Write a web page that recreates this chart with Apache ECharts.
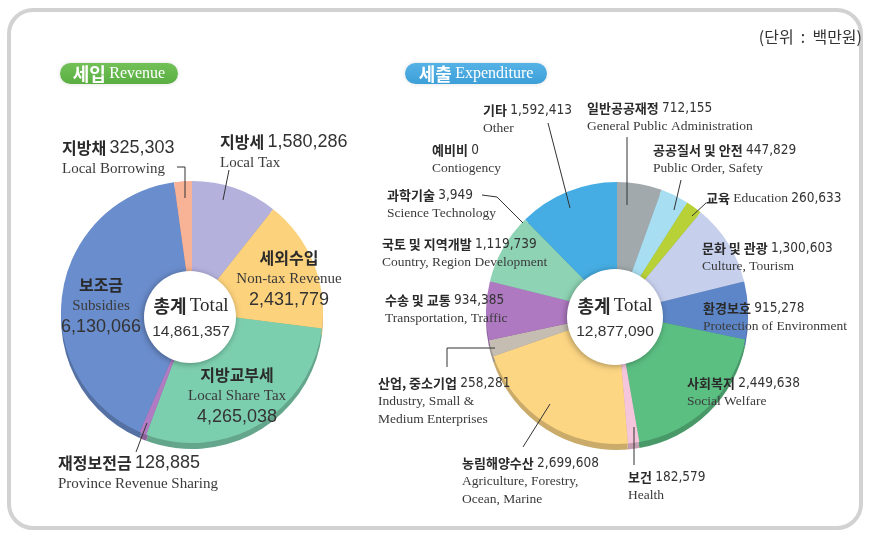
<!DOCTYPE html>
<html>
<head>
<meta charset="utf-8">
<script src="https://cdn.jsdelivr.net/npm/echarts@6/dist/echarts.min.js"></script>
<style>
  html, body { margin: 0; padding: 0; background: #fff; }
  #main { width: 870px; height: 534px; }
</style>
</head>
<body>
<div id="main"></div>
<script>
// 세입 (revenue), 단위: 백만원
var revNames = ['지방세', '세외수입', '지방교부세', '재정보전금', '보조금', '지방채'];
var revNamesEn = ['Local Tax', 'Non-tax Revenue', 'Local Share Tax', 'Province Revenue Sharing', 'Subsidies', 'Local Borrowing'];
var revValues = [1580286, 2431779, 4265038, 128885, 6130066, 325303];
var revColors = ['#b4b1dd', '#fdd27c', '#7ccfae', '#b07bc2', '#6a8dcd', '#f8b397'];

// 세출 (expenditure)
var expNames = ['일반공공재정', '공공질서 및 안전', '교육', '문화 및 관광', '환경보호', '사회복지', '보건',
    '농림해양수산', '산업, 중소기업', '수송 및 교통', '국토 및 지역개발', '과학기술', '예비비', '기타'];
var expNamesEn = ['General Public Administration', 'Public Order, Safety', 'Education', 'Culture, Tourism',
    'Protection of Environment', 'Social Welfare', 'Health', 'Agriculture, Forestry,\nOcean, Marine',
    'Industry, Small &\nMedium Enterprises', 'Transportation, Traffic', 'Country, Region Development',
    'Science Technology', 'Contiogency', 'Other'];
var expValues = [712155, 447829, 260633, 1300603, 915278, 2449638, 182579, 2699608, 258281, 934385, 1119739, 3949, 0, 1592413];
var expColors = ['#a1a9ad', '#a8def2', '#b8d136', '#c6cfec', '#5d86c8', '#5bbf82', '#f5c5dc',
    '#fdd683', '#c5bdb1', '#ae79c1', '#8ed3b4', '#8ed3b4', '#8ed3b4', '#45ade3'];

// 라벨 위치 [x, 첫 줄 중심 y, 형식]
var revLabelPos = [[220, 142, 'line'], [289, 258, 'stack'], [237, 375, 'stack'], [58, 463, 'line'], [101, 285, 'stack'], [62, 148, 'line']];
var expLabelPos = [[587, 108], [653, 150], [706, 198, 'inline'], [702, 248], [703, 308], [687, 383], [628, 477],
    [462, 463], [378, 383], [385, 300], [382, 244], [387, 195], [432, 150], [483, 110]];

// 지시선
var revLeaders = [[[229, 170], [223, 200]], null, null, [[136, 452], [147, 423]], null, [[177, 167], [185, 167], [185, 198]]];
var expLeaders = [[[627, 137], [627, 205]], [[681, 180], [674, 210]], [[706, 203], [692, 216]], null, null, null,
    [[634, 427], [634, 465]], [[523, 447], [550, 404]], [[447, 367], [447, 348], [495, 348]], null, null,
    [[482, 195], [497, 197], [523, 223]], null, [[548, 123], [570, 208]]];

var KR = "'Noto Sans CJK KR', sans-serif";
var SERIF = "'Liberation Serif', 'DejaVu Serif', serif";
var NUM = "'Liberation Sans', Arial, sans-serif";
var NUMN = "'DejaVu Sans Condensed', 'Liberation Sans', sans-serif";

function fmt(v) { return v.toLocaleString('en-US'); }
function sum(a) { return a.reduce(function (s, v) { return s + v; }, 0); }
function shade(hex, f) {
    var n = parseInt(hex.slice(1), 16);
    var r = Math.round(((n >> 16) & 255) * f), g = Math.round(((n >> 8) & 255) * f), b = Math.round((n & 255) * f);
    return 'rgb(' + r + ',' + g + ',' + b + ')';
}

var richLeft = {
    k: { fontFamily: KR, fontWeight: 'bold', fontSize: 16, fill: '#2a2a2a', lineHeight: 21 },
    e: { fontFamily: SERIF, fontSize: 15, fill: '#3a3a3a', lineHeight: 21 },
    n: { fontFamily: NUM, fontSize: 18, fill: '#333', lineHeight: 21 }
};
var richRight = {
    k: { fontFamily: KR, fontWeight: 'bold', fontSize: 13, fill: '#2a2a2a', lineHeight: 18 },
    e: { fontFamily: SERIF, fontSize: 13.5, fill: '#3a3a3a', lineHeight: 18 },
    n: { fontFamily: NUMN, fontSize: 13.5, fill: '#333', lineHeight: 18 }
};

function labelEl(name, en, val, pos, rich) {
    var kind = pos[2] || 'line';
    var enLines = en.split('\n').map(function (s) { return '{e|' + s + '}'; }).join('\n');
    var text, align = 'left';
    if (kind === 'stack') {
        text = '{k|' + name + '}\n' + enLines + '\n{n|' + fmt(val) + '}';
        align = 'center';
    } else if (kind === 'inline') {
        text = '{k|' + name + '} {e|' + en + '} {n|' + fmt(val) + '}';
    } else {
        text = '{k|' + name + '} {n|' + fmt(val) + '}\n' + enLines;
    }
    return {
        type: 'text', z: 20, silent: true,
        style: { text: text, x: pos[0], y: pos[1] - rich.k.lineHeight / 2, align: align, verticalAlign: 'top', rich: rich }
    };
}

function leaderEl(pts) {
    return { type: 'polyline', z: 20, silent: true, shape: { points: pts }, style: { stroke: '#333', lineWidth: 1, fill: null } };
}

function pieSeries(names, values, colors, center, z, f) {
    return {
        type: 'pie', z: z, center: center, radius: [40, 131], startAngle: 90, clockwise: true,
        silent: true, animation: false, label: { show: false }, labelLine: { show: false },
        data: names.map(function (n, i) {
            return { name: n, value: values[i], itemStyle: { color: f ? shade(colors[i], f) : colors[i] } };
        })
    };
}

function totalEl(cx, cy, total) {
    return {
        type: 'text', z: 25, silent: true,
        style: {
            text: '{k|총계} {e|Total}\n{n|' + fmt(total) + '}', x: cx, y: cy, align: 'center', verticalAlign: 'top',
            rich: {
                k: { fontFamily: KR, fontWeight: 'bold', fontSize: 18, fill: '#2a2a2a', lineHeight: 25 },
                e: { fontFamily: SERIF, fontSize: 19, fill: '#2a2a2a', lineHeight: 25 },
                n: { fontFamily: NUM, fontSize: 15.5, fill: '#333', lineHeight: 25 }
            }
        }
    };
}

function pillEl(x, y, w, c1, c2, ko, en) {
    return [{
        type: 'rect', z: 5, silent: true, shape: { x: x, y: y, width: w, height: 21, r: 10.5 },
        style: {
            fill: new echarts.graphic.LinearGradient(0, 0, 0, 1, [{ offset: 0, color: c1 }, { offset: 1, color: c2 }]),
            shadowBlur: 4, shadowColor: 'rgba(0,0,0,0.12)'
        }
    }, {
        type: 'text', z: 6, silent: true,
        style: {
            text: '{k|' + ko + '} {e|' + en + '}', x: x + w / 2, y: y + 11, align: 'center', verticalAlign: 'middle',
            rich: {
                k: { fontFamily: KR, fontWeight: 'bold', fontSize: 18, fill: '#fff' },
                e: { fontFamily: SERIF, fontSize: 16, fill: '#fff' }
            }
        }
    }];
}

var myChart = echarts.init(document.getElementById('main'), null, { renderer: 'canvas' });

var graphics = [
    { type: 'rect', z: 0, silent: true, shape: { x: 9, y: 10, width: 852, height: 518, r: 24 },
      style: { fill: '#fff', stroke: '#d2d2d2', lineWidth: 4 } },
    { type: 'text', z: 5, silent: true,
      style: { text: '(단위  :  백만원)', x: 862, y: 37, align: 'right', verticalAlign: 'middle',
               font: "16px 'Noto Sans CJK KR', sans-serif", fill: '#333' } },
    { type: 'circle', z: 15, silent: true, shape: { cx: 190, cy: 317, r: 46 },
      style: { fill: '#fff', shadowBlur: 6, shadowOffsetX: -1, shadowOffsetY: 1, shadowColor: 'rgba(0,0,0,0.35)' } },
    { type: 'circle', z: 15, silent: true, shape: { cx: 615, cy: 317, r: 48 },
      style: { fill: '#fff', shadowBlur: 6, shadowOffsetX: -1, shadowOffsetY: 1, shadowColor: 'rgba(0,0,0,0.35)' } },
    totalEl(191, 294, sum(revValues)),
    totalEl(615, 294, sum(expValues))
];
graphics = graphics.concat(pillEl(60, 63, 118, '#72c158', '#5aae42', '세입', 'Revenue'));
graphics = graphics.concat(pillEl(405, 63, 142, '#55b2e6', '#3d9fd8', '세출', 'Expenditure'));

revNames.forEach(function (n, i) {
    graphics.push(labelEl(n, revNamesEn[i], revValues[i], revLabelPos[i], richLeft));
    if (revLeaders[i]) graphics.push(leaderEl(revLeaders[i]));
});
expNames.forEach(function (n, i) {
    graphics.push(labelEl(n, expNamesEn[i], expValues[i], expLabelPos[i], richRight));
    if (expLeaders[i]) graphics.push(leaderEl(expLeaders[i]));
});

var option = {
    backgroundColor: '#fff',
    animation: false,
    graphic: { elements: graphics },
    series: [
        pieSeries(revNames, revValues, revColors, [192, 318], 2, 0.8),
        pieSeries(revNames, revValues, revColors, [192, 312], 3),
        pieSeries(expNames, expValues, expColors, [617, 319], 2, 0.8),
        pieSeries(expNames, expValues, expColors, [617, 313], 3)
    ]
};

myChart.setOption(option);
</script>
</body>
</html>
